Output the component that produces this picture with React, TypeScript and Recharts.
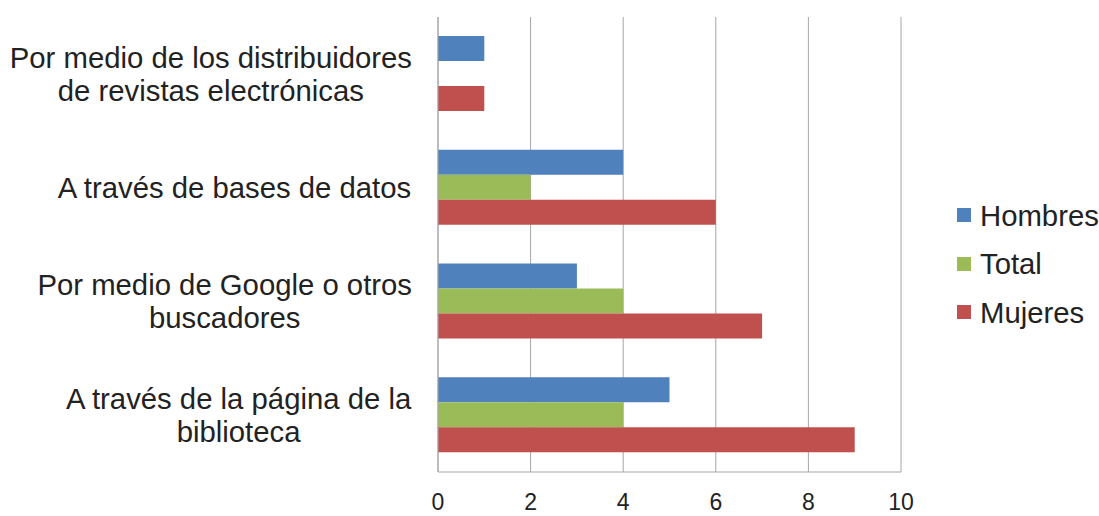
import React from 'react';
import { BarChart, Bar, XAxis, YAxis, CartesianGrid, Legend } from 'recharts';

const categories = [
  'Por medio de los distribuidores de revistas electrónicas',
  'A través de bases de datos',
  'Por medio de Google o otros buscadores',
  'A través de la página de la biblioteca',
];
const hombres = [1, 4, 3, 5];
const total = [0, 2, 4, 4];
const mujeres = [1, 6, 7, 9];
const xTicks = [0, 2, 4, 6, 8, 10];
const seriesNames = ['Hombres', 'Total', 'Mujeres'];
const seriesColors = ['#4F81BD', '#9BBB59', '#C0504D'];

const data = categories.map((c, i) => ({
  category: c,
  Hombres: hombres[i],
  Total: total[i],
  Mujeres: mujeres[i],
}));

const FONT = "'Liberation Sans', Arial, sans-serif";
const TEXT = '#222222';
const GRID = '#a6a6a6';
const LABEL_SIZE = 29.3;

let ctx: CanvasRenderingContext2D | null = null;
function measure(text: string, size: number): number {
  if (!ctx) ctx = document.createElement('canvas').getContext('2d');
  if (!ctx) return text.length * size * 0.5;
  ctx.font = `${size}px 'Liberation Sans'`;
  return ctx.measureText(text).width;
}

function wrap(text: string, maxWidth: number, size: number): string[] {
  const words = text.split(' ');
  const lines: string[] = [];
  let cur = '';
  for (const w of words) {
    const trial = cur ? cur + ' ' + w : w;
    if (cur && measure(trial, size) > maxWidth) {
      lines.push(cur);
      cur = w;
    } else {
      cur = trial;
    }
  }
  if (cur) lines.push(cur);
  return lines;
}

const YTick = (props: any) => {
  const { x, y, payload } = props;
  const lines = wrap(String(payload.value), 425, LABEL_SIZE);
  const maxW = Math.max(...lines.map((l) => measure(l, LABEL_SIZE)));
  const cx = x - maxW / 2;
  const lh = 33;
  const startY = y - ((lines.length - 1) * lh) / 2;
  return (
    <text textAnchor="middle" fill={TEXT} fontSize={LABEL_SIZE} fontFamily={FONT}>
      {lines.map((l, i) => (
        <tspan key={i} x={cx} y={startY + i * lh} dy="0.35em">
          {l}
        </tspan>
      ))}
    </text>
  );
};

const LegendContent = () => (
  <div style={{ fontFamily: FONT }}>
    {seriesNames.map((n, i) => (
      <div key={n} style={{ height: 48.5, display: 'flex', alignItems: 'center' }}>
        <div style={{ width: 14, height: 14, background: seriesColors[i], marginRight: 9 }} />
        <span style={{ fontSize: LABEL_SIZE, color: TEXT, lineHeight: 1 }}>{n}</span>
      </div>
    ))}
  </div>
);

export default function App() {
  return (
    <div style={{ position: 'absolute', left: 0, top: 0, background: '#fff' }}>
      <BarChart
        width={1099}
        height={516}
        data={data}
        layout="vertical"
        margin={{ top: 17, right: 198, bottom: 0, left: 0 }}
        barCategoryGap="16.6%"
        barGap={0}
        style={{ fontFamily: FONT }}
      >
        <CartesianGrid horizontal={false} stroke={GRID} strokeWidth={1} />
        <XAxis
          type="number"
          domain={[0, 10]}
          ticks={xTicks}
          interval={0}
          height={44}
          axisLine={{ stroke: GRID, strokeWidth: 1 }}
          tickLine={false}
          tickSize={6}
          tickMargin={16}
          tick={{ fontSize: 23, fill: TEXT, fontFamily: FONT }}
        />
        <YAxis
          type="category"
          dataKey="category"
          width={438}
          axisLine={{ stroke: GRID, strokeWidth: 1 }}
          tickLine={false}
          tickSize={0}
          tickMargin={26}
          interval={0}
          tick={<YTick />}
        />
        <Legend
          layout="vertical"
          align="center"
          verticalAlign="middle"
          wrapperStyle={{ left: 957, top: 191, width: 142 }}
          content={<LegendContent />}
        />
        {seriesNames.map((n, i) => (
          <Bar key={n} dataKey={n} name={n} fill={seriesColors[i]} isAnimationActive={false} />
        ))}
      </BarChart>
    </div>
  );
}
